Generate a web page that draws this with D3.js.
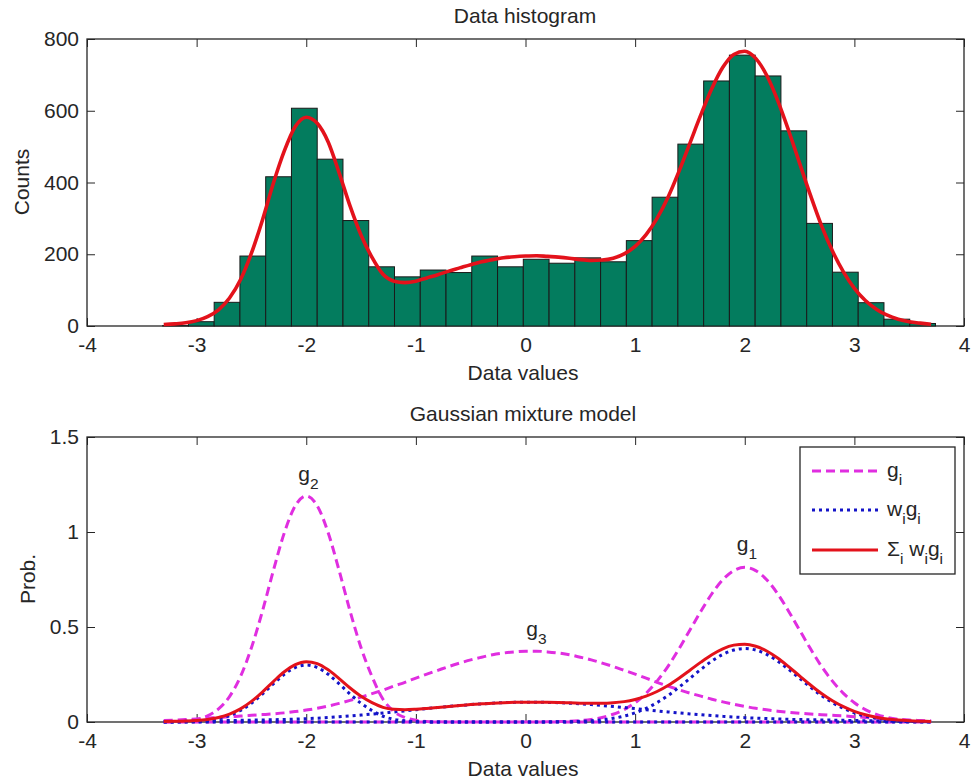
<!DOCTYPE html>
<html>
<head>
<meta charset="utf-8">
<script src="https://cdn.jsdelivr.net/npm/d3@7"></script>
<style>
  html, body { margin: 0; padding: 0; background: #fff; }
  svg text { font-family: "Liberation Sans", Arial, Helvetica, sans-serif; fill: #262626; }
</style>
</head>
<body>
<svg id="fig" width="973" height="782"></svg>
<script>
// ---- Histogram: 30 bins over the data range ----
const binEdges = [-3.310, -3.075, -2.840, -2.605, -2.370, -2.135, -1.900, -1.665, -1.430, -1.195,
                  -0.960, -0.725, -0.490, -0.255, -0.020, 0.215, 0.450, 0.685, 0.920, 1.155,
                  1.390, 1.625, 1.860, 2.095, 2.330, 2.565, 2.800, 3.035, 3.270, 3.505, 3.740];
const binCounts = [1, 12, 66, 195, 416, 607, 465, 294, 165, 137,
                   156, 149, 195, 165, 186, 175, 190, 179, 238, 359,
                   507, 683, 755, 697, 544, 286, 150, 65, 19, 7];

// ---- Sample points where the fitted curves are evaluated ----
const curveX = [-3.3, -3.2, -3.1, -3.0, -2.9, -2.8, -2.7, -2.6, -2.5, -2.4, -2.3, -2.2, -2.1, -2.0,
                -1.9, -1.8, -1.7, -1.6, -1.5, -1.4, -1.3, -1.2, -1.1, -1.0, -0.9, -0.8, -0.7, -0.6,
                -0.5, -0.4, -0.3, -0.2, -0.1, 0.0, 0.1, 0.2, 0.3, 0.4, 0.5, 0.6, 0.7, 0.8, 0.9, 1.0,
                1.1, 1.2, 1.3, 1.4, 1.5, 1.6, 1.7, 1.8, 1.9, 2.0, 2.1, 2.2, 2.3, 2.4, 2.5, 2.6, 2.7,
                2.8, 2.9, 3.0, 3.1, 3.2, 3.3, 3.4, 3.5, 3.6, 3.7];

// Fitted mixture scaled to histogram counts
const fitCounts = [4, 6, 9, 15, 26, 45, 78, 129, 203, 295, 398, 488, 556, 582, 565, 513, 427, 334, 253, 191,
                   144, 125, 121, 125, 134, 143, 153, 162, 171, 179, 185, 190, 193,
                   195, 196, 194, 192, 189, 185, 183, 184, 189, 201, 222, 255, 300, 359, 431, 510, 589,
                   662, 721, 757, 766, 746, 699, 629, 545, 454, 364, 280, 209, 151, 105, 71, 47, 30, 19,
                   12, 8, 5];

// ---- Mixture components g_i ----
const g1 = [0, 0, 0, 0, 0, 0, 0, 0, 0, 0, 0, 0, 0, 0, 0, 0, 0, 0, 0, 0, 0, 0, 0, 0, 0, 0, 0, 0, 0, 0, 0, 0, 0,
            0.0002, 0.0004, 0.0010, 0.0020, 0.0039, 0.0075, 0.0137, 0.0241, 0.0406, 0.0655, 0.1014, 0.151,
            0.215, 0.293, 0.385, 0.484, 0.583, 0.675, 0.749, 0.797, 0.814, 0.797, 0.749, 0.675, 0.583,
            0.484, 0.385, 0.293, 0.215, 0.151, 0.1014, 0.0655, 0.0406, 0.0241, 0.0137, 0.0075, 0.0039, 0.0020];
const g2 = [0.0006, 0.0019, 0.0054, 0.0138, 0.0323, 0.0688, 0.134, 0.239, 0.391, 0.583, 0.797, 0.996,
            1.138, 1.19, 1.138, 0.996, 0.797, 0.583, 0.391, 0.239, 0.120, 0.055, 0.024, 0.009, 0.003,
            0.001, 0.0003, 0, 0, 0, 0, 0, 0, 0, 0, 0, 0, 0, 0, 0, 0, 0, 0, 0, 0, 0, 0, 0, 0, 0, 0, 0,
            0, 0, 0, 0, 0, 0, 0, 0, 0, 0, 0, 0, 0, 0, 0, 0, 0, 0, 0];
const g3 = [0.008, 0.010, 0.013, 0.016, 0.020, 0.024, 0.028, 0.031, 0.035, 0.039, 0.043, 0.048, 0.055,
            0.063, 0.072, 0.084, 0.098, 0.114, 0.131, 0.149, 0.168, 0.189, 0.209, 0.231, 0.252, 0.272,
            0.292, 0.310, 0.327, 0.341, 0.354, 0.363, 0.369,
            0.373, 0.373, 0.369, 0.363, 0.354, 0.341, 0.327, 0.310, 0.292, 0.272, 0.252, 0.231, 0.209,
            0.189, 0.170, 0.152, 0.136, 0.120, 0.106, 0.093, 0.082, 0.072, 0.064, 0.057, 0.051, 0.046,
            0.042, 0.038, 0.035, 0.032, 0.028, 0.024, 0.020, 0.016, 0.013, 0.010, 0.008, 0.006];

// ---- Weighted components w_i g_i ----
const wg1 = [0, 0, 0, 0, 0, 0, 0, 0, 0, 0, 0, 0, 0, 0, 0, 0, 0, 0, 0, 0, 0, 0, 0, 0, 0, 0, 0, 0, 0, 0, 0, 0, 0,
             0.0001, 0.0002, 0.0005, 0.0010, 0.0019, 0.0036, 0.0065, 0.0114, 0.0193, 0.0311, 0.0482, 0.0717,
             0.1021, 0.1392, 0.1829, 0.2299, 0.2769, 0.3206, 0.3558, 0.3786, 0.3867, 0.3786, 0.3558, 0.3206,
             0.2769, 0.2299, 0.1829, 0.1392, 0.1021, 0.0717, 0.0482, 0.0311, 0.0193, 0.0114, 0.0065, 0.0036,
             0.0019, 0.0010];
const wg2 = [0.0002, 0.0005, 0.0014, 0.0035, 0.0081, 0.0173, 0.0338, 0.0602, 0.0985, 0.1469, 0.2008,
             0.2510, 0.2868, 0.2999, 0.2868, 0.2510, 0.2008, 0.1469, 0.0985, 0.0602, 0.0302, 0.0139,
             0.0060, 0.0023, 0.0008, 0.0003, 0.0001, 0, 0, 0, 0, 0, 0, 0, 0, 0, 0, 0, 0, 0, 0, 0, 0, 0,
             0, 0, 0, 0, 0, 0, 0, 0, 0, 0, 0, 0, 0, 0, 0, 0, 0, 0, 0, 0, 0, 0, 0, 0, 0, 0, 0];
const wg3 = [0.0022, 0.0028, 0.0036, 0.0045, 0.0056, 0.0067, 0.0078, 0.0087, 0.0098, 0.0109, 0.0120,
             0.0134, 0.0154, 0.0176, 0.0202, 0.0235, 0.0274, 0.0319, 0.0367, 0.0417, 0.0470, 0.0529,
             0.0585, 0.0647, 0.0706, 0.0762, 0.0818, 0.0868, 0.0916, 0.0955, 0.0991, 0.1016, 0.1033,
             0.1044, 0.1044, 0.1033, 0.1016, 0.0991, 0.0955, 0.0916, 0.0868, 0.0818, 0.0762, 0.0706,
             0.0647, 0.0585, 0.0529, 0.0476, 0.0426, 0.0381, 0.0336, 0.0297, 0.0260, 0.0230, 0.0202,
             0.0179, 0.0160, 0.0143, 0.0129, 0.0118, 0.0106, 0.0098, 0.0090, 0.0078, 0.0067, 0.0056,
             0.0045, 0.0036, 0.0028, 0.0022, 0.0017];

// ---- Mixture density sum_i w_i g_i ----
const mixture = [0.0024, 0.0033, 0.0050, 0.0080, 0.0137, 0.0240, 0.0416, 0.0689, 0.1083, 0.1578, 0.2128,
                 0.2644, 0.3022, 0.3175, 0.3070, 0.2745, 0.2282, 0.1788, 0.1352, 0.1019, 0.0772, 0.0668,
                 0.0645, 0.0670, 0.0714, 0.0765, 0.0819, 0.0868, 0.0916, 0.0955, 0.0991, 0.1016, 0.1033,
                 0.1045, 0.1046, 0.1038, 0.1026, 0.1010, 0.0991, 0.0981, 0.0982, 0.1011, 0.1073, 0.1188,
                 0.1364, 0.1606, 0.1921, 0.2305, 0.2725, 0.3150, 0.3542, 0.3855, 0.4046, 0.4097, 0.3988,
                 0.3737, 0.3366, 0.2912, 0.2428, 0.1947, 0.1498, 0.1119, 0.0807, 0.0560, 0.0378, 0.0249,
                 0.0159, 0.0101, 0.0064, 0.0041, 0.0027];

// ---- Ticks and labels ----
const xTicks = [-4, -3, -2, -1, 0, 1, 2, 3, 4];
const countTicks = [0, 200, 400, 600, 800];
const probTicks = [0, 0.5, 1, 1.5];
const componentNames = ["1", "2", "3"];
const componentPeakX = [2.02, -1.98, 0.1];
const componentLabelY = [0.90, 1.27, 0.455];

// ---- Drawing ----
const svg = d3.select("#fig");
const FONT = 21, SUB = 15.5;
const RED = "#e3121b", MAGENTA = "#e02ee0", BLUE = "#1414c8", BAR = "#037c5e";

const x = d3.scaleLinear().domain([-4, 4]).range([87, 964]);
const yTop = d3.scaleLinear().domain([0, 800]).range([326, 39]);
const yBot = d3.scaleLinear().domain([0, 1.5]).range([722, 437]);

function styleAxis(sel) {
  sel.attr("font-size", null).attr("font-family", null);
  sel.select(".domain").remove();
  sel.selectAll(".tick line").attr("stroke", "#262626");
  sel.selectAll(".tick text").attr("font-size", FONT).attr("fill", "#262626");
}

function frame(y, yTicks) {
  const [yb, yt] = y.range();
  const [xl, xr] = x.range();
  const g = svg.append("g");
  g.append("g").attr("transform", `translate(0,${yb})`)
    .call(d3.axisBottom(x).tickValues(xTicks).tickSizeInner(-8).tickSizeOuter(0)
      .tickPadding(11).tickFormat(d => String(d)))
    .call(styleAxis);
  g.append("g").attr("transform", `translate(0,${yt})`)
    .call(d3.axisTop(x).tickValues(xTicks).tickSizeInner(-8).tickSizeOuter(0).tickFormat(""))
    .call(styleAxis);
  g.append("g").attr("transform", `translate(${xl},0)`)
    .call(d3.axisLeft(y).tickValues(yTicks).tickSizeInner(-8).tickSizeOuter(0)
      .tickPadding(8).tickFormat(d => String(d)))
    .call(styleAxis);
  g.append("g").attr("transform", `translate(${xr},0)`)
    .call(d3.axisRight(y).tickValues(yTicks).tickSizeInner(-8).tickSizeOuter(0).tickFormat(""))
    .call(styleAxis);
  g.append("rect").attr("x", xl).attr("y", yt).attr("width", xr - xl).attr("height", yb - yt)
    .attr("fill", "none").attr("stroke", "#262626").attr("stroke-width", 1.3);
  return g;
}

// Top panel: histogram with fitted curve
frame(yTop, countTicks);

svg.append("g").selectAll("rect").data(binCounts).join("rect")
  .attr("x", (d, i) => x(binEdges[i]))
  .attr("width", (d, i) => x(binEdges[i + 1]) - x(binEdges[i]))
  .attr("y", d => yTop(d))
  .attr("height", d => yTop(0) - yTop(d))
  .attr("fill", BAR).attr("stroke", "#1a1a1a").attr("stroke-width", 1);

const topLine = d3.line().x((d, i) => x(curveX[i])).y(d => yTop(d)).curve(d3.curveMonotoneX);
svg.append("path").attr("d", topLine(fitCounts))
  .attr("fill", "none").attr("stroke", RED).attr("stroke-width", 3.6).attr("stroke-linejoin", "round");

svg.append("text").attr("x", 525).attr("y", 23).attr("text-anchor", "middle")
  .attr("font-size", FONT).text("Data histogram");
svg.append("text").attr("x", 523).attr("y", 380).attr("text-anchor", "middle")
  .attr("font-size", FONT).text("Data values");
svg.append("text").attr("transform", "translate(29,182) rotate(-90)").attr("text-anchor", "middle")
  .attr("font-size", FONT).text("Counts");

// Bottom panel: mixture components
frame(yBot, probTicks);

const botLine = d3.line().x((d, i) => x(curveX[i])).y(d => yBot(d)).curve(d3.curveMonotoneX);
const plot = svg.append("g");
[g1, g2, g3].forEach(s => plot.append("path").attr("d", botLine(s))
  .attr("fill", "none").attr("stroke", MAGENTA).attr("stroke-width", 3)
  .attr("stroke-dasharray", "9,5"));
[wg1, wg2, wg3].forEach(s => plot.append("path").attr("d", botLine(s))
  .attr("fill", "none").attr("stroke", BLUE).attr("stroke-width", 3)
  .attr("stroke-dasharray", "3,4"));
plot.append("path").attr("d", botLine(mixture))
  .attr("fill", "none").attr("stroke", RED).attr("stroke-width", 3).attr("stroke-linejoin", "round");

// Component names above each peak
componentNames.forEach((n, i) => {
  const t = svg.append("text").attr("x", x(componentPeakX[i])).attr("y", yBot(componentLabelY[i]))
    .attr("text-anchor", "middle").attr("font-size", FONT);
  t.append("tspan").text("g");
  t.append("tspan").attr("font-size", SUB).attr("dy", 8).text(n);
});

svg.append("text").attr("x", 523).attr("y", 421).attr("text-anchor", "middle")
  .attr("font-size", FONT).text("Gaussian mixture model");
svg.append("text").attr("x", 523).attr("y", 776).attr("text-anchor", "middle")
  .attr("font-size", FONT).text("Data values");
svg.append("text").attr("transform", "translate(35,579) rotate(-90)").attr("text-anchor", "middle")
  .attr("font-size", FONT).text("Prob.");

// Legend
const legend = svg.append("g");
legend.append("rect").attr("x", 800).attr("y", 447).attr("width", 155).attr("height", 127)
  .attr("fill", "#fff").attr("stroke", "#262626").attr("stroke-width", 1.3);
const legendRows = [
  { y: 471, stroke: MAGENTA, dash: "9,5", parts: [["g", 0], ["i", 1]] },
  { y: 510, stroke: BLUE, dash: "3,4", parts: [["w", 0], ["i", 1], ["g", 0], ["i", 1]] },
  { y: 550, stroke: RED, dash: null, parts: [["\u03A3", 0], ["i", 1], ["\u00A0w", 0], ["i", 1], ["g", 0], ["i", 1]] }
];
legendRows.forEach(r => {
  legend.append("line").attr("x1", 812).attr("x2", 878).attr("y1", r.y).attr("y2", r.y)
    .attr("stroke", r.stroke).attr("stroke-width", 3).attr("stroke-dasharray", r.dash);
  const t = legend.append("text").attr("x", 887).attr("y", r.y + 6).attr("font-size", FONT);
  let sub = 0;
  r.parts.forEach(([s, isSub]) => {
    const shift = (isSub ? 8 : 0) - sub;
    t.append("tspan").attr("font-size", isSub ? SUB : FONT).attr("dy", shift).text(s);
    sub = isSub ? 8 : 0;
  });
});
</script>
</body>
</html>
